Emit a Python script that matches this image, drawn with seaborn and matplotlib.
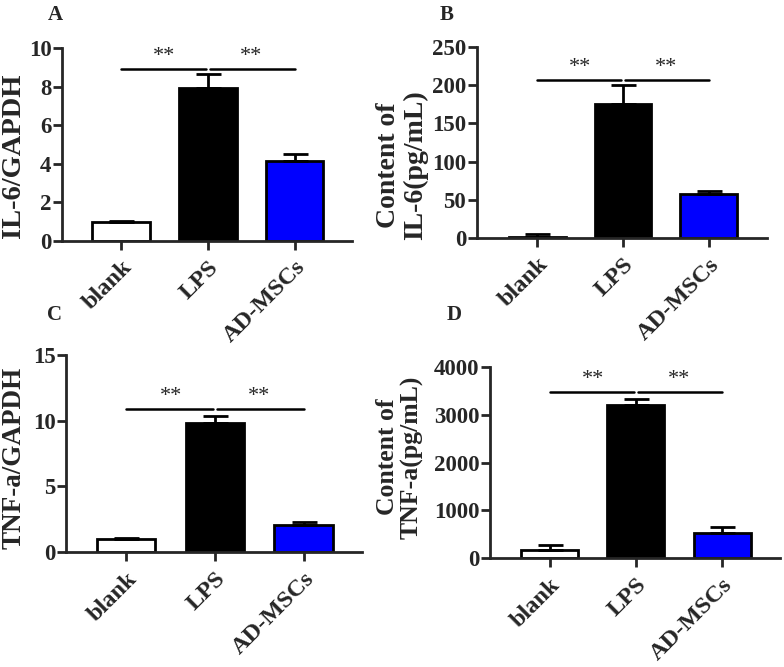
import matplotlib
matplotlib.use("Agg")
import matplotlib.pyplot as plt
import matplotlib.transforms as mtransforms
import seaborn as sns
import pandas as pd
import numpy as np

groups = ["blank", "LPS", "AD-MSCs"]
bar_colors = ["#FFFFFF", "#000000", "#0000FF"]

il6_gapdh = [1.0, 7.95, 4.15]
il6_gapdh_err = [0.05, 0.7, 0.35]
il6_content = [2.0, 175.0, 58.0]
il6_content_err = [3.5, 25.0, 4.0]
tnf_gapdh = [1.0, 9.8, 2.1]
tnf_gapdh_err = [0.1, 0.55, 0.2]
tnf_content = [180.0, 3200.0, 520.0]
tnf_content_err = [90.0, 120.0, 140.0]

sns.set_style("ticks")
plt.rcParams["font.family"] = ["Liberation Serif", "DejaVu Serif"]
plt.rcParams["font.weight"] = "bold"


def bar_panel(ax, values, errs, ylabel, yticks, sig_y, label, lab_xy,
              ylab_size, ylab_xy, xlim):
    df = pd.DataFrame({"group": groups, "value": values})
    sns.barplot(data=df, x="group", y="value", hue="group", palette=bar_colors,
                saturation=1, edgecolor="black", linewidth=2, width=0.66,
                legend=False, errorbar=None, ax=ax)
    ax.errorbar(range(3), values, yerr=[[0, 0, 0], errs], fmt="none",
                ecolor="black", elinewidth=2, capsize=9, capthick=2)
    ax.set_xlim(*xlim)
    ax.set_ylim(0, yticks[-1])
    ax.set_yticks(yticks)
    ax.set_yticklabels([str(t) for t in yticks], fontsize=16.5, fontweight="bold")
    ax.set_xticks(range(3))
    ax.set_xticklabels(groups, rotation=45, ha="right", rotation_mode="anchor",
                       fontsize=17.5, fontweight="bold")
    shift = mtransforms.ScaledTranslation(-0.07, -0.04, fig.dpi_scale_trans)
    for t in ax.get_xticklabels():
        t.set_transform(t.get_transform() + shift)
    ax.set_xlabel("")
    ax.set_ylabel(ylabel, fontsize=ylab_size, fontweight="bold",
                  linespacing=1.1)
    ax.yaxis.set_label_coords(*ylab_xy)
    for s in ["top", "right"]:
        ax.spines[s].set_visible(False)
    for s in ["left", "bottom"]:
        ax.spines[s].set_linewidth(2)
    ax.tick_params(axis="both", width=2, length=6.5, pad=1)
    ax.tick_params(axis="x", pad=5)
    # significance bars
    ax.plot([0, 0.98], [sig_y, sig_y], color="black", lw=1.8, clip_on=False)
    ax.plot([1.02, 2], [sig_y, sig_y], color="black", lw=1.8, clip_on=False)
    top = yticks[-1]
    for xm in [0.5, 1.5]:
        ax.text(xm, sig_y + top * 0.015, "**", ha="center", va="bottom",
                fontsize=16, fontweight="normal")
    fig.text(lab_xy[0], lab_xy[1], label, fontsize=15, fontweight="bold",
             ha="center", va="center")


fig = plt.figure(figsize=(7.84, 6.67), dpi=100)
axA = fig.add_axes([0.079, 0.639, 0.370, 0.289])
axB = fig.add_axes([0.608, 0.643, 0.370, 0.287])
axC = fig.add_axes([0.084, 0.172, 0.378, 0.296])
axD = fig.add_axes([0.625, 0.163, 0.370, 0.287])

bar_panel(axA, il6_gapdh, il6_gapdh_err, "IL-6/GAPDH", [0, 2, 4, 6, 8, 10],
          8.9, "A", (0.070, 0.977), 20.5, (-0.125, 0.44), (-0.68, 2.66))
bar_panel(axB, il6_content, il6_content_err, "Content of\nIL-6(pg/mL)",
          [0, 50, 100, 150, 200, 250], 207, "B", (0.570, 0.977),
          20, (-0.166, 0.38), (-0.71, 2.68))
bar_panel(axC, tnf_gapdh, tnf_gapdh_err, "TNF-a/GAPDH", [0, 5, 10, 15],
          10.9, "C", (0.070, 0.528), 19.5, (-0.132, 0.48), (-0.68, 2.66))
bar_panel(axD, tnf_content, tnf_content_err, "Content of\nTNF-a(pg/mL)",
          [0, 1000, 2000, 3000, 4000], 3480, "D", (0.579, 0.528),
          18.5, (-0.228, 0.53), (-0.69, 2.67))

fig.savefig("out.png", dpi=100)
